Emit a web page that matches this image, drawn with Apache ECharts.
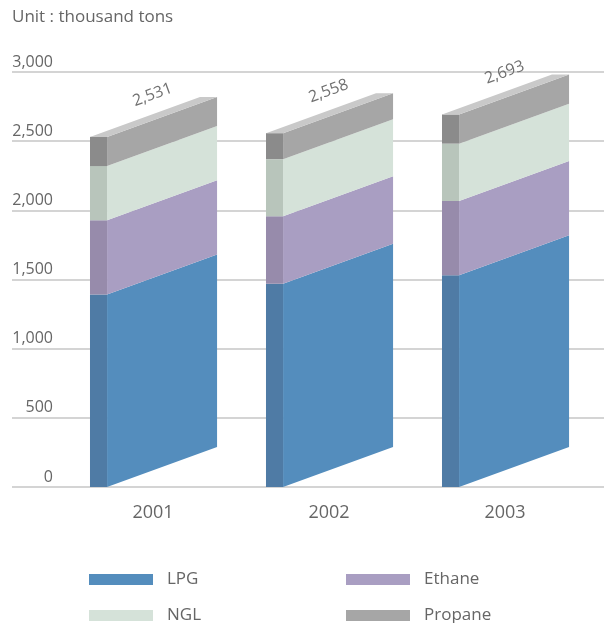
<!DOCTYPE html>
<html>
<head>
<meta charset="utf-8">
<script src="https://cdn.jsdelivr.net/npm/echarts@6/dist/echarts.min.js"></script>
<style>html,body{margin:0;padding:0;background:#fff;}#c{width:604px;height:623px;}</style>
</head>
<body>
<div id="c"></div>
<script>
// ---- data ----
const categories = ['2001', '2002', '2003'];
const lpg     = [1391, 1470, 1531];
const ethane  = [537, 487, 536];
const ngl     = [392, 413, 415];
const propane = [211, 188, 211];
const yTicks  = [0, 500, 1000, 1500, 2000, 2500, 3000];
const seriesNames = ['LPG', 'Ethane', 'NGL', 'Propane'];

// ---- styles ----
const sideColors  = ['#548dbd', '#a99ec2', '#d5e2d9', '#a6a6a6'];
const frontColors = ['#4f7ba5', '#978bab', '#b8c5bb', '#8b8b8b'];
const capColor = '#c9c9c9';
const FONT = '"Open Sans", "Noto Sans", sans-serif';
const TXT = '#666666';

const allSeries = [lpg, ethane, ngl, propane];
const totals = categories.map((c, i) => allSeries.reduce((s, a) => s + a[i], 0));

function geom(api, idx) {
  const cx = api.coord([idx, 0])[0];
  const band = api.size([1, 0])[0];
  return {
    fl: cx - band * 0.358,
    fr: cx - band * 0.261,
    sr: cx + band * 0.364,
    dy: band * 40 / 176
  };
}

function makeRender(k) {
  return function (params, api) {
    const idx = api.value(0);
    const g = geom(api, idx);
    const y0 = api.coord([idx, api.value(1)])[1];
    const y1 = api.coord([idx, api.value(2)])[1];
    return {
      type: 'group',
      children: [
        { type: 'rect', shape: { x: g.fl, y: y1, width: g.fr - g.fl, height: y0 - y1 },
          style: { fill: frontColors[k] } },
        { type: 'polygon', shape: { points: [[g.fr, y0], [g.sr, y0 - g.dy], [g.sr, y1 - g.dy], [g.fr, y1]] },
          style: { fill: sideColors[k] } }
      ]
    };
  };
}

const stackSeries = allSeries.map((arr, k) => {
  const data = arr.map((v, i) => {
    let base = 0;
    for (let j = 0; j < k; j++) base += allSeries[j][i];
    return [i, base, base + v];
  });
  return {
    type: 'custom',
    name: seriesNames[k],
    xAxisIndex: 1, yAxisIndex: 1,
    itemStyle: { color: sideColors[k] },
    renderItem: makeRender(k),
    encode: { x: 0, y: [1, 2] },
    data: data,
    z: 3
  };
});

const capSeries = {
  type: 'custom',
  name: 'total',
  xAxisIndex: 1, yAxisIndex: 1,
  renderItem: function (params, api) {
    const idx = api.value(0);
    const g = geom(api, idx);
    const yt = api.coord([idx, api.value(1)])[1];
    const back = g.sr - g.fr;
    const ang = Math.atan2(g.dy, back);
    return {
      type: 'group',
      children: [
        { type: 'polygon', shape: { points: [[g.fl, yt], [g.fr, yt], [g.sr, yt - g.dy], [g.fl + back, yt - g.dy]] },
          style: { fill: capColor } },
        { type: 'text', x: (g.fl + g.sr) / 2 - 1, y: yt - g.dy / 2 - 22, rotation: ang,
          style: { text: api.value(1).toLocaleString('en-US'), fill: '#707070', font: '16px ' + FONT,
                   align: 'center', verticalAlign: 'middle' } }
      ]
    };
  },
  encode: { x: 0, y: 1 },
  data: totals.map((t, i) => [i, t]),
  z: 4
};

function legendAt(name, left, top) {
  return {
    data: [name], left: left, top: top, orient: 'horizontal',
    icon: 'rect', itemWidth: 64, itemHeight: 11, padding: 0,
    selectedMode: false,
    textStyle: { color: TXT, fontSize: 17, fontFamily: FONT, padding: [0, 0, 0, 9] }
  };
}

const option = {
  animation: false,
  color: sideColors,
  title: {
    text: 'Unit : thousand tons', left: 12, top: 9, padding: 0,
    textStyle: { color: TXT, fontSize: 17, fontWeight: 'normal', fontFamily: FONT }
  },
  legend: [
    legendAt('LPG', 89, 571),
    legendAt('Ethane', 346, 571),
    legendAt('NGL', 89, 607),
    legendAt('Propane', 346, 607)
  ],
  grid: [
    { left: 12, right: 0, top: 72, height: 415 },
    { left: 65, width: 528, top: 72, height: 415 }
  ],
  xAxis: [
    { gridIndex: 0, type: 'value', show: false, min: 0, max: 1 },
    { gridIndex: 1, type: 'category', data: categories,
      axisLine: { show: false }, axisTick: { show: false }, splitLine: { show: false },
      axisLabel: { margin: 17, fontSize: 18, color: TXT, fontFamily: FONT } }
  ],
  yAxis: [
    { gridIndex: 0, type: 'value', min: yTicks[0], max: yTicks[yTicks.length - 1], interval: yTicks[1] - yTicks[0],
      axisLine: { show: false }, axisTick: { show: false },
      splitLine: { lineStyle: { color: '#c6c6c6', width: 1.5 } },
      axisLabel: { inside: true, margin: 41, align: 'right', verticalAlign: 'bottom', padding: [0, 0, 2, 0],
        fontSize: 16, color: TXT, fontFamily: FONT,
        formatter: v => v.toLocaleString('en-US') } },
    { gridIndex: 1, type: 'value', min: yTicks[0], max: yTicks[yTicks.length - 1], show: false,
      splitLine: { show: false } }
  ],
  series: stackSeries.concat([capSeries])
};

const chart = echarts.init(document.getElementById('c'), null, { renderer: 'canvas' });
chart.setOption(option);
</script>
</body>
</html>
